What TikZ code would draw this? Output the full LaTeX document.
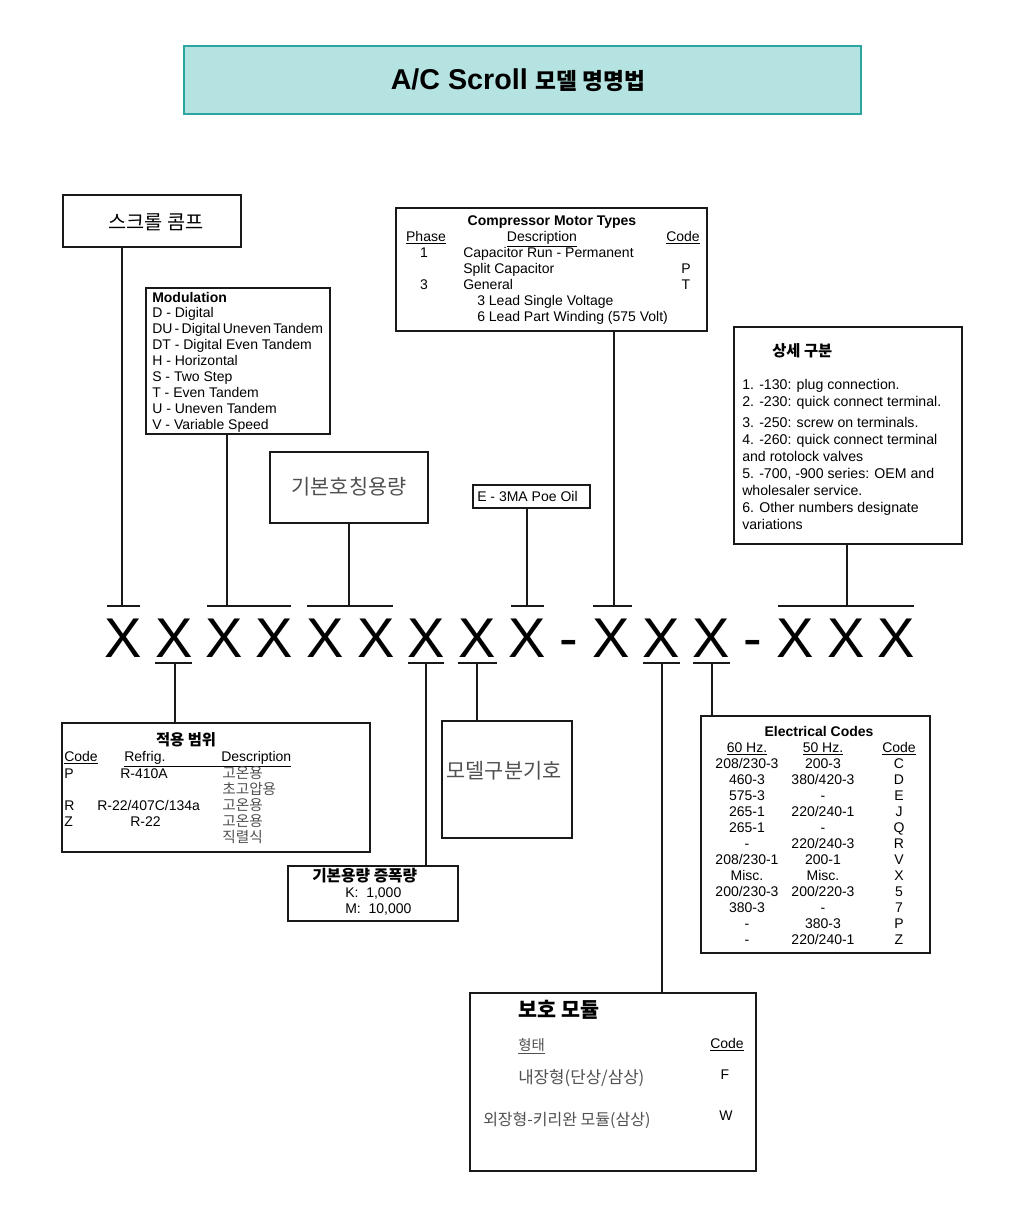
\documentclass[tikz,border=0pt]{standalone}
\usepackage{fontspec}
\setmainfont{Liberation Sans}
\newfontfamily\kr{Noto Sans CJK KR}
\usetikzlibrary{fit}
\definecolor{tealfill}{HTML}{B4E3E1}
\definecolor{tealline}{HTML}{2BA59D}
\definecolor{krgray}{HTML}{505050}
\tikzset{
  box/.style={draw=black!90, line width=1.5pt, inner sep=0pt},
  conn/.style={line width=1.5pt, draw=black!90},
  txt/.style={inner sep=0pt, anchor=base west, font=\fontsize{10.5pt}{12pt}\selectfont},
  txtc/.style={inner sep=0pt, anchor=base, font=\fontsize{10.5pt}{12pt}\selectfont},
  txts/.style={inner sep=0pt, anchor=base west, font=\fontsize{10.6pt}{12pt}\selectfont},
  krg/.style={inner sep=0pt, anchor=base west, text=krgray},
  bigx/.style={inner sep=0pt, anchor=base, font=\fontsize{42pt}{42pt}\selectfont}
}
\begin{document}
\begin{tikzpicture}[x=0.75pt,y=-0.75pt]
\useasboundingbox (0,0) rectangle (1024,1210);

% title
\node[box, fill=tealfill, draw=tealline, line width=1.7pt, fit={(184,46)(861,114)}] (title) {};
\node[inner sep=0pt] (titletext) at (518,80) {\fontsize{21.5pt}{24pt}\selectfont\bfseries A/C Scroll {\kr\fontsize{17pt}{20pt}\selectfont\bfseries 모델 명명법}};

% top boxes
\node[box, line width=2.2pt, fit={(63,195)(241,247)}] (scroll) {};
\node[inner sep=0pt, font=\kr\fontsize{14.8pt}{16pt}\selectfont] (scrolltext) at (156,222) {스크롤 콤프};

\node[box, fit={(146,288)(330,434)}] (mod) {};
\node[txt] (m0) at (152,302) {\bfseries Modulation};
\node[txt] (m1) at (152,317) {D - Digital};
\node[txt] (m2) at (152,333) {\spaceskip=0.16em DU -\,Digital Uneven Tandem};
\node[txt] (m3) at (152,349) {DT - Digital Even Tandem};
\node[txt] (m4) at (152,365) {H - Horizontal};
\node[txt] (m5) at (152,381) {S - Two Step};
\node[txt] (m6) at (152,397) {T - Even Tandem};
\node[txt] (m7) at (152,413) {U - Uneven Tandem};
\node[txt] (m8) at (152,429) {V - Variable Speed};

\node[box, fit={(270,452)(428,523)}] (cap) {};
\node[inner sep=0pt, text=krgray, font=\kr\fontsize{15.6pt}{17pt}\selectfont] (captext) at (349,487) {기본호칭용량};

\node[box, fit={(473,485)(590,508)}] (oil) {};
\node[txt] (oiltext) at (477,501) {E - 3MA Poe Oil};

\node[box, fit={(396,208)(707,331)}] (motor) {};
\node[txtc] (mt0) at (552,225) {\bfseries Compressor Motor Types};
\node[txtc] (mt1) at (426,241) {\underline{Phase}};
\node[txtc] (mt2) at (542,241) {\underline{Description}};
\node[txtc] (mt3) at (683,241) {\underline{Code}};
\node[txtc] (mt4) at (424,257) {1};
\node[txt] (mt5) at (463,257) {Capacitor Run - Permanent};
\node[txt] (mt6) at (463,273) {Split Capacitor};
\node[txtc] (mt7) at (686,273) {P};
\node[txtc] (mt8) at (424,289) {3};
\node[txt] (mt9) at (463,289) {General};
\node[txtc] (mt10) at (686,289) {T};
\node[txt] (mt11) at (477,305) {3 Lead Single Voltage};
\node[txt] (mt12) at (477,321) {6 Lead Part Winding (575 Volt)};

\node[box, fit={(734,327)(962,544)}] (det) {};
\node[txt, font=\kr\bfseries\fontsize{11.5pt}{12pt}\selectfont] (d0) at (772,356) {상세 구분};
\node[txts] (d1) at (742,389) {1. -130: plug connection.};
\node[txts] (d2) at (742,406) {2. -230: quick connect terminal.};
\node[txts] (d3) at (742,427) {3. -250: screw on terminals.};
\node[txts] (d4) at (742,444) {4. -260: quick connect terminal};
\node[txts] (d5) at (742,461) {and rotolock valves};
\node[txts] (d6) at (742,478) {5. -700, -900 series: OEM and};
\node[txts] (d7) at (742,495) {wholesaler service.};
\node[txts] (d8) at (742,512) {6. Other numbers designate};
\node[txts] (d9) at (742,529) {variations};

% X row
\foreach \n/\x in {1/123,2/174,3/224,4/274,5/325,6/376,7/426,8/477,9/527,10/611,11/661,12/711,13/795,14/846,15/896}
  \node[bigx] (x\n) at (\x,657) {X};
\node[bigx] (dash1) at (569,657) {-};
\node[bigx] (dash2) at (753,657) {-};

% ticks
\foreach \a/\b in {107/140,207/291,307/393,511/544,593/632,778/914}
  \draw[conn] (\a,606) -- (\b,606);
\foreach \a/\b in {155/192,408/444,458/497,643/680,693/730}
  \draw[conn] (\a,663) -- (\b,663);

\coordinate (tA) at (122,606);
\coordinate (tB) at (227,606);
\coordinate (tC) at (349,606);
\coordinate (tD) at (527,606);
\coordinate (tE) at (614,606);
\coordinate (tF) at (847,606);
\coordinate (bA) at (175,663);
\coordinate (bB) at (426,663);
\coordinate (bC) at (477,663);
\coordinate (bD) at (662,663);
\coordinate (bE) at (712,663);

% bottom boxes
\node[box, fit={(62,723)(370,852)}] (range) {};
\node[txtc, font=\kr\bfseries\fontsize{11.5pt}{12pt}\selectfont] (r0) at (186,745) {적용 범위};
\node[txt] (r1) at (64,761) {\underline{Code}};
\node[txt] (r2) at (124,761) {\underline{\makebox[72.75pt][l]{Refrig.}}};
\node[txt] (r3) at (221,761) {\underline{Description}};
\node[txt] (r4) at (64,778) {P};
\node[txt] (r5) at (120,778) {R-410A};
\node[krg, font=\kr\fontsize{11pt}{12pt}\selectfont] (r6) at (222,778) {고온용};
\node[krg, font=\kr\fontsize{11pt}{12pt}\selectfont] (r7) at (222,794) {초고압용};
\node[txt] (r8) at (64,810) {R};
\node[txt] (r9) at (97,810) {R-22/407C/134a};
\node[krg, font=\kr\fontsize{11pt}{12pt}\selectfont] (r10) at (222,810) {고온용};
\node[txt] (r11) at (64,826) {Z};
\node[txt] (r12) at (130,826) {R-22};
\node[krg, font=\kr\fontsize{11pt}{12pt}\selectfont] (r13) at (222,826) {고온용};
\node[krg, font=\kr\fontsize{11pt}{12pt}\selectfont] (r14) at (222,842) {직렬식};

\node[box, fit={(288,866)(458,921)}] (incr) {};
\node[txt, font=\kr\bfseries\fontsize{11.8pt}{12pt}\selectfont] (i0) at (312,881) {기본용량 증폭량};
\node[txt] (i1) at (345,897) {K:\ \ 1,000};
\node[txt] (i2) at (345,913) {M:\ \ 10,000};

\node[box, fit={(442,721)(572,838)}] (model) {};
\node[inner sep=0pt, text=krgray, font=\kr\fontsize{15.6pt}{17pt}\selectfont] (modeltext) at (504,771) {모델구분기호};

\node[box, fit={(701,716)(930,953)}] (elec) {};
\node[txtc] (e0) at (819,736) {\bfseries Electrical Codes};
\node[txtc] (e1) at (747,752) {\underline{60 Hz.}};
\node[txtc] (e2) at (823,752) {\underline{50 Hz.}};
\node[txtc] (e3) at (899,752) {\underline{Code}};
\foreach \i/\a/\b/\c in {0/208\slash230-3/200-3/C,1/460-3/380\slash420-3/D,2/575-3/-/E,3/265-1/220\slash240-1/J,4/265-1/-/Q,5/-/220\slash240-3/R,6/208\slash230-1/200-1/V,7/Misc./Misc./X,8/200\slash230-3/200\slash220-3/5,9/380-3/-/7,10/-/380-3/P,11/-/220\slash240-1/Z}{
  \node[txtc] (ea\i) at (747,768+16*\i) {\a};
  \node[txtc] (eb\i) at (823,768+16*\i) {\b};
  \node[txtc] (ec\i) at (899,768+16*\i) {\c};
}

\node[box, fit={(470,993)(756,1171)}] (prot) {};
\node[txt, font=\kr\bfseries\fontsize{15.5pt}{17pt}\selectfont] (p0) at (518,1017) {보호 모듈};
\node[krg, font=\kr\fontsize{10.8pt}{12pt}\selectfont] (p1) at (518,1050) {\underline{형태}};
\node[txtc] (p2) at (727,1048) {\underline{Code}};
\node[krg, font=\kr\fontsize{12.6pt}{14pt}\selectfont] (p3) at (518,1083) {내장형(단상/삼상)};
\node[txtc] (p4) at (725,1079) {F};
\node[krg, font=\kr\fontsize{12pt}{13pt}\selectfont] (p5) at (483,1125) {외장형-키리완 모듈(삼상)};
\node[txtc] (p6) at (726,1120) {W};

% connectors
\draw[conn] (scroll.south -| tA) -- (tA);
\draw[conn] (mod.south -| tB) -- (tB);
\draw[conn] (cap.south -| tC) -- (tC);
\draw[conn] (oil.south -| tD) -- (tD);
\draw[conn] (motor.south -| tE) -- (tE);
\draw[conn] (det.south -| tF) -- (tF);
\draw[conn] (bA) -- (range.north -| bA);
\draw[conn] (bB) -- (incr.north -| bB);
\draw[conn] (bC) -- (model.north -| bC);
\draw[conn] (bD) -- (prot.north -| bD);
\draw[conn] (bE) -- (elec.north -| bE);
\end{tikzpicture}
\end{document}
